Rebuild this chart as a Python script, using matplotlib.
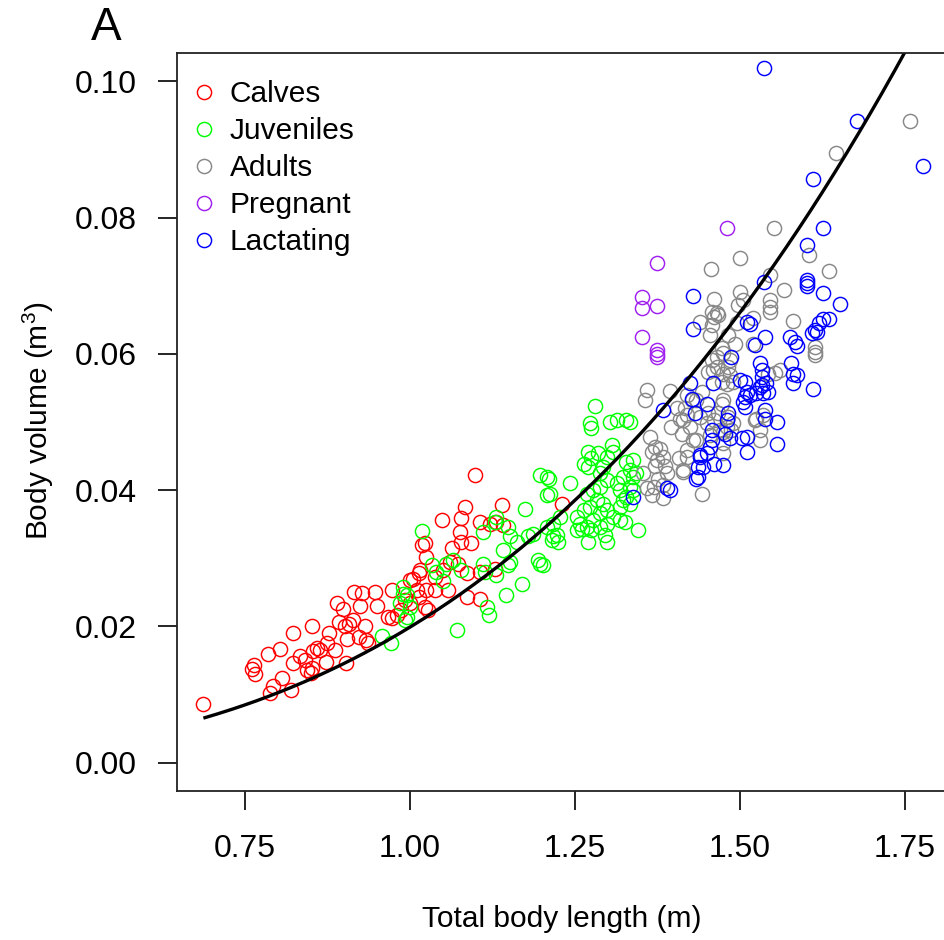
import numpy as np
import matplotlib
matplotlib.use("Agg")
import matplotlib.pyplot as plt
from matplotlib.ticker import FixedLocator, FormatStrFormatter

plt.rcParams['font.family'] = ['Liberation Sans', 'DejaVu Sans']
plt.rcParams['mathtext.fontset'] = 'custom'
plt.rcParams['mathtext.rm'] = 'Liberation Sans'
plt.rcParams['mathtext.it'] = 'Liberation Sans'

# ---- measurements: total body length (m) and body volume (m^3) ----
calves_len = [0.687, 0.764, 0.761, 0.765, 0.785, 0.803, 0.822, 0.851, 0.792, 0.788,
              0.806, 0.819, 0.822, 0.833, 0.841, 0.844, 0.850, 0.851, 0.853, 0.859,
              0.864, 0.874, 0.872, 0.886, 0.878, 0.889, 0.899, 0.893, 0.902, 0.907,
              0.914, 0.904, 0.903, 0.915, 0.928, 0.947, 0.924, 0.950, 0.932, 0.922,
              0.934, 0.937, 0.972, 0.967, 0.972, 0.980, 1.000, 1.005, 1.015, 1.013,
              1.023, 1.025, 1.010, 1.013, 1.025, 1.023, 0.992, 1.000, 0.987, 1.028,
              1.098, 1.083, 1.078, 1.139, 1.106, 1.121, 1.131, 1.141, 1.048, 1.230,
              1.076, 1.078, 1.093, 1.063, 1.018, 1.061, 1.073, 1.050, 1.038, 1.086,
              1.106, 1.129, 1.038, 1.058, 1.086, 1.106]
calves_vol = [0.0086, 0.0143, 0.0137, 0.0130, 0.0159, 0.0167, 0.0190, 0.0200, 0.0113, 0.0102,
              0.0124, 0.0107, 0.0147, 0.0156, 0.0151, 0.0136, 0.0132, 0.0139, 0.0164, 0.0168,
              0.0165, 0.0175, 0.0148, 0.0165, 0.0191, 0.0234, 0.0226, 0.0207, 0.0200, 0.0204,
              0.0209, 0.0181, 0.0146, 0.0251, 0.0249, 0.0251, 0.0230, 0.0230, 0.0200, 0.0185,
              0.0180, 0.0175, 0.0254, 0.0214, 0.0212, 0.0217, 0.0268, 0.0270, 0.0283, 0.0278,
              0.0322, 0.0302, 0.0253, 0.0243, 0.0253, 0.0229, 0.0239, 0.0234, 0.0224, 0.0224,
              0.0422, 0.0376, 0.0359, 0.0378, 0.0354, 0.0351, 0.0354, 0.0349, 0.0356, 0.0380,
              0.0339, 0.0324, 0.0322, 0.0315, 0.0319, 0.0295, 0.0292, 0.0283, 0.0273, 0.0278,
              0.0280, 0.0285, 0.0253, 0.0253, 0.0243, 0.0241]

juveniles_len = [1.018, 0.957, 0.971, 0.990, 0.995, 0.985, 1.000, 0.995, 1.280, 1.273,
                 1.275, 1.303, 1.313, 1.328, 1.333, 1.270, 1.285, 1.270, 1.275, 1.263,
                 1.306, 1.308, 1.298, 1.293, 1.288, 1.197, 1.207, 1.210, 1.242, 1.207,
                 1.328, 1.333, 1.338, 1.323, 1.313, 1.318, 1.338, 1.328, 1.333, 1.318,
                 1.298, 1.288, 1.278, 1.268, 1.283, 1.293, 1.273, 1.263, 1.253, 1.258,
                 1.268, 1.278, 1.288, 1.298, 1.308, 1.318, 1.298, 1.288, 1.275, 1.260,
                 1.253, 1.270, 1.298, 1.295, 1.326, 1.346, 1.217, 1.222, 1.225, 1.215,
                 1.194, 1.197, 1.202, 1.227, 1.217, 1.207, 1.187, 1.179, 1.162, 1.152,
                 1.174, 1.131, 1.129, 1.141, 1.152, 1.149, 1.111, 1.114, 1.131, 1.169,
                 1.146, 1.116, 1.119, 1.071, 1.033, 1.040, 1.050, 1.055, 1.065, 1.078,
                 0.990, 0.992, 1.149, 1.111, 1.212, 1.343, 1.338, 1.333, 1.323]
juveniles_vol = [0.0340, 0.0186, 0.0175, 0.0258, 0.0246, 0.0234, 0.0229, 0.0214, 0.0523, 0.0498,
                 0.0491, 0.0500, 0.0503, 0.0503, 0.0500, 0.0456, 0.0454, 0.0434, 0.0447, 0.0439,
                 0.0466, 0.0456, 0.0449, 0.0434, 0.0425, 0.0422, 0.0420, 0.0417, 0.0410, 0.0393,
                 0.0442, 0.0430, 0.0420, 0.0420, 0.0410, 0.0400, 0.0400, 0.0390, 0.0380, 0.0376,
                 0.0415, 0.0405, 0.0400, 0.0395, 0.0385, 0.0380, 0.0376, 0.0371, 0.0361, 0.0351,
                 0.0346, 0.0356, 0.0366, 0.0371, 0.0361, 0.0356, 0.0351, 0.0346, 0.0341, 0.0343,
                 0.0341, 0.0324, 0.0324, 0.0334, 0.0354, 0.0341, 0.0332, 0.0334, 0.0324, 0.0327,
                 0.0297, 0.0292, 0.0290, 0.0361, 0.0351, 0.0346, 0.0336, 0.0332, 0.0324, 0.0332,
                 0.0373, 0.0361, 0.0354, 0.0312, 0.0295, 0.0290, 0.0292, 0.0280, 0.0275, 0.0263,
                 0.0246, 0.0229, 0.0217, 0.0195, 0.0290, 0.0280, 0.0266, 0.0292, 0.0297, 0.0283,
                 0.0248, 0.0209, 0.0346, 0.0339, 0.0395, 0.0425, 0.0444, 0.0405, 0.0386]

adults_len = [1.758, 1.646, 1.551, 1.500, 1.456, 1.605, 1.635, 1.545, 1.566, 1.500,
              1.460, 1.497, 1.505, 1.545, 1.545, 1.545, 1.457, 1.465, 1.460, 1.467,
              1.440, 1.457, 1.455, 1.519, 1.580, 1.614, 1.614, 1.614, 1.482, 1.492,
              1.472, 1.465, 1.457, 1.465, 1.475, 1.485, 1.482, 1.475, 1.485, 1.490,
              1.480, 1.472, 1.459, 1.452, 1.561, 1.553, 1.543, 1.525, 1.535, 1.530,
              1.530, 1.472, 1.467, 1.482, 1.490, 1.480, 1.470, 1.460, 1.475, 1.475,
              1.427, 1.417, 1.414, 1.424, 1.412, 1.429, 1.419, 1.414, 1.442, 1.452,
              1.440, 1.419, 1.475, 1.359, 1.394, 1.356, 1.434, 1.404, 1.419, 1.409,
              1.396, 1.364, 1.371, 1.379, 1.384, 1.374, 1.371, 1.386, 1.389, 1.376,
              1.369, 1.384, 1.366, 1.384, 1.359, 1.353, 1.366, 1.414, 1.407, 1.419,
              1.442, 1.450, 1.455, 1.434, 1.487, 1.475, 1.495, 1.520, 1.523]
adults_vol = [0.0942, 0.0895, 0.0785, 0.0740, 0.0725, 0.0745, 0.0722, 0.0715, 0.0693, 0.0691,
              0.0680, 0.0671, 0.0679, 0.0679, 0.0669, 0.0662, 0.0662, 0.0660, 0.0654, 0.0657,
              0.0647, 0.0642, 0.0627, 0.0652, 0.0648, 0.0610, 0.0603, 0.0598, 0.0627, 0.0615,
              0.0608, 0.0596, 0.0591, 0.0581, 0.0601, 0.0591, 0.0581, 0.0571, 0.0569, 0.0559,
              0.0556, 0.0558, 0.0576, 0.0574, 0.0576, 0.0572, 0.0571, 0.0505, 0.0510, 0.0488,
              0.0473, 0.0527, 0.0513, 0.0508, 0.0498, 0.0493, 0.0488, 0.0503, 0.0469, 0.0454,
              0.0532, 0.0520, 0.0503, 0.0493, 0.0483, 0.0473, 0.0459, 0.0429, 0.0544, 0.0513,
              0.0508, 0.0539, 0.0532, 0.0547, 0.0546, 0.0532, 0.0532, 0.0520, 0.0510, 0.0505,
              0.0493, 0.0478, 0.0464, 0.0461, 0.0449, 0.0444, 0.0435, 0.0435, 0.0425, 0.0417,
              0.0405, 0.0408, 0.0393, 0.0389, 0.0403, 0.0425, 0.0456, 0.0427, 0.0447, 0.0449,
              0.0395, 0.0498, 0.0481, 0.0473, 0.0488, 0.0486, 0.0645, 0.0615, 0.0503]

pregnant_len = [1.374, 1.351, 1.351, 1.374, 1.351, 1.375, 1.375, 1.375, 1.480]
pregnant_vol = [0.0734, 0.0684, 0.0668, 0.0670, 0.0625, 0.0606, 0.0600, 0.0596, 0.0785]

lactating_len = [1.537, 1.677, 1.778, 1.611, 1.626, 1.602, 1.602, 1.602, 1.602, 1.536,
                 1.626, 1.429, 1.652, 1.429, 1.510, 1.515, 1.626, 1.635, 1.620, 1.614,
                 1.609, 1.616, 1.576, 1.583, 1.586, 1.538, 1.523, 1.530, 1.487, 1.500,
                 1.459, 1.533, 1.533, 1.540, 1.533, 1.543, 1.535, 1.530, 1.578, 1.580,
                 1.586, 1.580, 1.611, 1.508, 1.510, 1.508, 1.505, 1.508, 1.515, 1.525,
                 1.538, 1.538, 1.556, 1.556, 1.510, 1.510, 1.503, 1.485, 1.482, 1.480,
                 1.477, 1.457, 1.457, 1.455, 1.460, 1.475, 1.437, 1.437, 1.440, 1.450,
                 1.424, 1.427, 1.450, 1.432, 1.384, 1.338, 1.389, 1.394, 1.434, 1.444,
                 1.439]
lactating_vol = [0.1019, 0.0942, 0.0875, 0.0857, 0.0785, 0.0759, 0.0709, 0.0704, 0.0699, 0.0706,
                 0.0689, 0.0685, 0.0673, 0.0637, 0.0647, 0.0644, 0.0651, 0.0651, 0.0645, 0.0635,
                 0.0630, 0.0632, 0.0625, 0.0618, 0.0611, 0.0624, 0.0613, 0.0586, 0.0596, 0.0561,
                 0.0557, 0.0576, 0.0566, 0.0557, 0.0554, 0.0544, 0.0542, 0.0552, 0.0587, 0.0571,
                 0.0569, 0.0557, 0.0549, 0.0559, 0.0544, 0.0537, 0.0530, 0.0522, 0.0539, 0.0542,
                 0.0517, 0.0505, 0.0500, 0.0468, 0.0478, 0.0456, 0.0476, 0.0476, 0.0513, 0.0503,
                 0.0483, 0.0488, 0.0473, 0.0464, 0.0439, 0.0437, 0.0434, 0.0420, 0.0449, 0.0454,
                 0.0557, 0.0534, 0.0527, 0.0513, 0.0517, 0.0390, 0.0403, 0.0400, 0.0417, 0.0434,
                 0.0451]

group_names = ["Calves", "Juveniles", "Adults", "Pregnant", "Lactating"]
group_colors = ["#FF0000", "#00FF00", "#888888", "#A020F0", "#0000FF"]

# power-law fit: volume = FIT_A * length ** FIT_B
FIT_A = 0.0199
FIT_B = 2.96

x_ticks = [0.75, 1.00, 1.25, 1.50, 1.75]
y_ticks = [0.00, 0.02, 0.04, 0.06, 0.08, 0.10]

# ---- figure ----
W, H = 945, 940
fig = plt.figure(figsize=(W / 100, H / 100), dpi=100)
ax_l, ax_r, ax_t, ax_b = 177, 951, 53.3, 790.7
ax = fig.add_axes([ax_l / W, 1 - ax_b / H, (ax_r - ax_l) / W, (ax_b - ax_t) / H])

groups = [(calves_len, calves_vol), (juveniles_len, juveniles_vol),
          (adults_len, adults_vol), (pregnant_len, pregnant_vol),
          (lactating_len, lactating_vol)]
for (gx, gy), name, col in zip(groups, group_names, group_colors):
    ax.plot(gx, gy, linestyle="none", marker="o", markersize=10.2,
            markerfacecolor="none", markeredgecolor=col, markeredgewidth=1.05,
            label=name)

all_len = np.concatenate([np.asarray(g[0]) for g in groups])
curve_x = np.linspace(all_len.min(), all_len.max(), 300)
ax.plot(curve_x, FIT_A * curve_x ** FIT_B, color="black", linewidth=2.4,
        solid_capstyle="butt")

ax.set_xlim(0.6470, 1.8197)
ax.set_ylim(-0.0041, 0.1041)

ax.xaxis.set_major_locator(FixedLocator(x_ticks))
ax.yaxis.set_major_locator(FixedLocator(y_ticks))
ax.xaxis.set_major_formatter(FormatStrFormatter("%.2f"))
ax.yaxis.set_major_formatter(FormatStrFormatter("%.2f"))
ax.tick_params(axis="both", direction="out", length=13.5, width=1.2,
               labelsize=23, colors="black")
ax.tick_params(axis="x", pad=17.5)
ax.tick_params(axis="y", pad=15.5)
for sp in ax.spines.values():
    sp.set_linewidth(1.3)
    sp.set_color("#222222")

ax.set_xlabel("Total body length (m)", fontsize=21.5)
ax.set_ylabel(r"Body volume (m$^3$)", fontsize=21.5)
ax.xaxis.label.set_verticalalignment("center")
ax.yaxis.label.set_verticalalignment("center")
ax_w, ax_h = ax_r - ax_l, ax_b - ax_t
ax.xaxis.set_label_coords((562 - ax_l) / ax_w, (ax_b - 919) / ax_h)
ax.yaxis.set_label_coords((38 - ax_l) / ax_w, (ax_b - 421) / ax_h)

leg = ax.legend(loc="upper left",
                bbox_to_anchor=((189 - ax_l) / ax_w, (ax_b - 80.5) / ax_h),
                frameon=False, fontsize=21.5, borderpad=0, borderaxespad=0,
                handlelength=1.0, handletextpad=0.37, labelspacing=0.30,
                markerscale=1.0)

fig.text(106 / W, 1 - 28 / H, "A", ha="center", va="center", fontsize=33)

fig.savefig("out.png", dpi=100)
